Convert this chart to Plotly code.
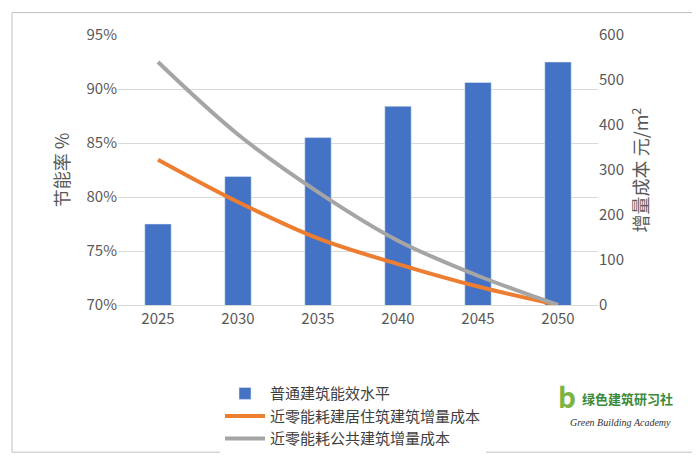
import plotly.graph_objects as go

years = ["2025", "2030", "2035", "2040", "2045", "2050"]
rate = [77.5, 81.9, 85.5, 88.4, 90.6, 92.5]
residential = [323, 229, 148, 91, 41, 0]
public = [540, 379, 251, 143, 65, 0]

pw, ph = 700 - 220, 459 - 182
def px(x, y):
    return (x - 110) / pw, (459 - 155 - y) / ph

fig = go.Figure()
fig.add_trace(go.Bar(x=years, y=rate, name="普通建筑能效水平", marker_color="#4472C4",
                     width=0.33, base=0, yaxis="y"))
fig.add_trace(go.Scatter(x=years, y=residential, name="近零能耗建居住筑建筑增量成本",
                         mode="lines", line=dict(color="#ED7D31", width=4, shape="spline"), yaxis="y2"))
fig.add_trace(go.Scatter(x=years, y=public, name="近零能耗公共建筑增量成本",
                         mode="lines", line=dict(color="#A5A5A5", width=4, shape="spline"), yaxis="y2"))

tf = dict(family="Noto Sans CJK SC, DejaVu Sans", size=15, color="#595959")
x0, y0 = px(4, 455)
x1, y1 = px(696, 4)
lx, ly = px(212, 378)
ax, ay = px(572, 412)
bx, by = px(560, 432)
cx, cy = px(548, 420)
fig.update_layout(
    width=700, height=459, plot_bgcolor="white", paper_bgcolor="white",
    margin=dict(l=110, r=110, t=27, b=155),
    font=tf,
    xaxis=dict(showline=True, linecolor="#D9D9D9", ticks="", tickfont=tf),
    yaxis=dict(range=[70, 95], dtick=5, ticksuffix="%", showgrid=True, gridcolor="#D9D9D9",
               title=dict(text="节能率 %", font=dict(size=18, color="#595959"), standoff=12),
               zeroline=False, tickfont=tf),
    yaxis2=dict(range=[0, 600], dtick=100, overlaying="y", side="right", showgrid=False,
                title=dict(text="增量成本 元/m<sup>2</sup>", font=dict(size=18, color="#595959"), standoff=12),
                zeroline=False, tickfont=tf),
    legend=dict(x=lx, y=ly, xref="paper", yref="paper", xanchor="left", yanchor="top",
                font=dict(size=15, color="#404040"), tracegroupgap=0, itemwidth=40),
    shapes=[dict(type="rect", xref="paper", yref="paper", x0=x0, x1=x1, y0=y0, y1=y1,
                 line=dict(color="#BFBFBF", width=1))],
    annotations=[
        dict(text="<b>绿色建筑研习社</b>", x=ax, y=ay, xref="paper", yref="paper", showarrow=False,
             font=dict(size=13, color="#3A8A3A"), xanchor="left"),
        dict(text="<i>Green Building Academy</i>", x=bx, y=by, xref="paper", yref="paper", showarrow=False,
             font=dict(family="Liberation Serif", size=10, color="#333333"), xanchor="left"),
        dict(text="<b>b</b>", x=cx, y=cy, xref="paper", yref="paper", showarrow=False,
             font=dict(size=28, color="#7CB342"), xanchor="left"),
    ],
)
fig.write_html("out.html")
